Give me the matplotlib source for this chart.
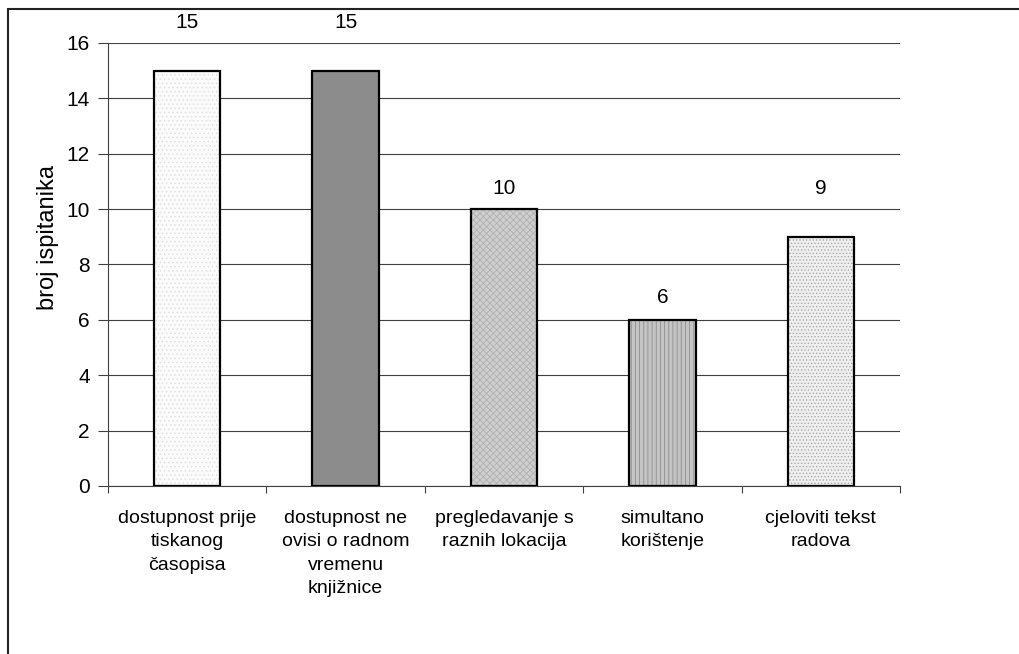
import matplotlib.pyplot as plt
from matplotlib.patches import Rectangle
import matplotlib as mpl

plt.rcParams['font.family'] = ['Liberation Sans', 'DejaVu Sans']
mpl.rcParams['hatch.linewidth'] = 0.6

categories = [
    "dostupnost prije\ntiskanog\nčasopisa",
    "dostupnost ne\novisi o radnom\nvremenu\nknjižnice",
    "pregledavanje s\nraznih lokacija",
    "simultano\nkorištenje",
    "cjeloviti tekst\nradova",
]
values = [15, 15, 10, 6, 9]
# where the value labels sit (data units), as placed in the original
label_pos = [16.75, 16.75, 10.75, 6.8, 10.75]

faces = ["#fbfbfb", "#8c8c8c", "#cfcfcf", "#c4c4c4", "#f0f0f0"]
hatch_colors = ["#e0e0e0", "#7a7a7a", "#b0b0b0", "#8e8e8e", "#a8a8a8"]
hatches = ["....", "", "xxxxx", "||||", "....."]

fig = plt.figure(figsize=(10.2, 6.54), dpi=100)
ax = fig.add_axes([0.1059, 0.2569, 0.7765, 0.6774])

x = list(range(len(values)))
for i, v in enumerate(values):
    ax.bar(i, v, width=0.42, facecolor=faces[i], edgecolor=hatch_colors[i],
           hatch=hatches[i], linewidth=0, zorder=3)
    ax.bar(i, v, width=0.42, facecolor="none", edgecolor="black",
           linewidth=1.6, zorder=4)
    ax.text(i, label_pos[i], str(v), ha="center", va="center", fontsize=15,
            clip_on=False)

ax.set_xlim(-0.5, len(values) - 0.5)
ax.set_ylim(0, 16)
ax.set_yticks(range(0, 17, 2))
ax.yaxis.grid(True, color="#404040", linewidth=0.8, zorder=0)
ax.set_axisbelow(True)

ax.set_xticks(x)
ax.set_xticklabels(categories, fontsize=14, linespacing=1.5, va="top")
ax.set_xticks([i - 0.5 for i in range(len(values) + 1)], minor=True)
ax.tick_params(axis="x", which="major", length=0, pad=17)
ax.tick_params(axis="x", which="minor", length=5, width=0.8, direction="out", color="#404040")
ax.tick_params(axis="y", length=7, width=0.8, direction="out", labelsize=15,
               color="#404040", pad=6)

for s in ["top", "right"]:
    ax.spines[s].set_visible(False)
ax.spines["left"].set_color("#404040")
ax.spines["bottom"].set_color("#404040")
ax.spines["left"].set_linewidth(0.8)
ax.spines["bottom"].set_linewidth(0.8)

ax.set_ylabel("broj ispitanika", fontsize=17)
ax.yaxis.set_label_coords(-0.062, 0.56)

# outer frame
fig.add_artist(Rectangle((8.5 / 1020, -0.1), 1.2, 1 - 8.5 / 654 + 0.1,
                         transform=fig.transFigure, fill=False,
                         edgecolor="#222222", linewidth=1.5))

fig.savefig("out.png", dpi=100, facecolor="white")
